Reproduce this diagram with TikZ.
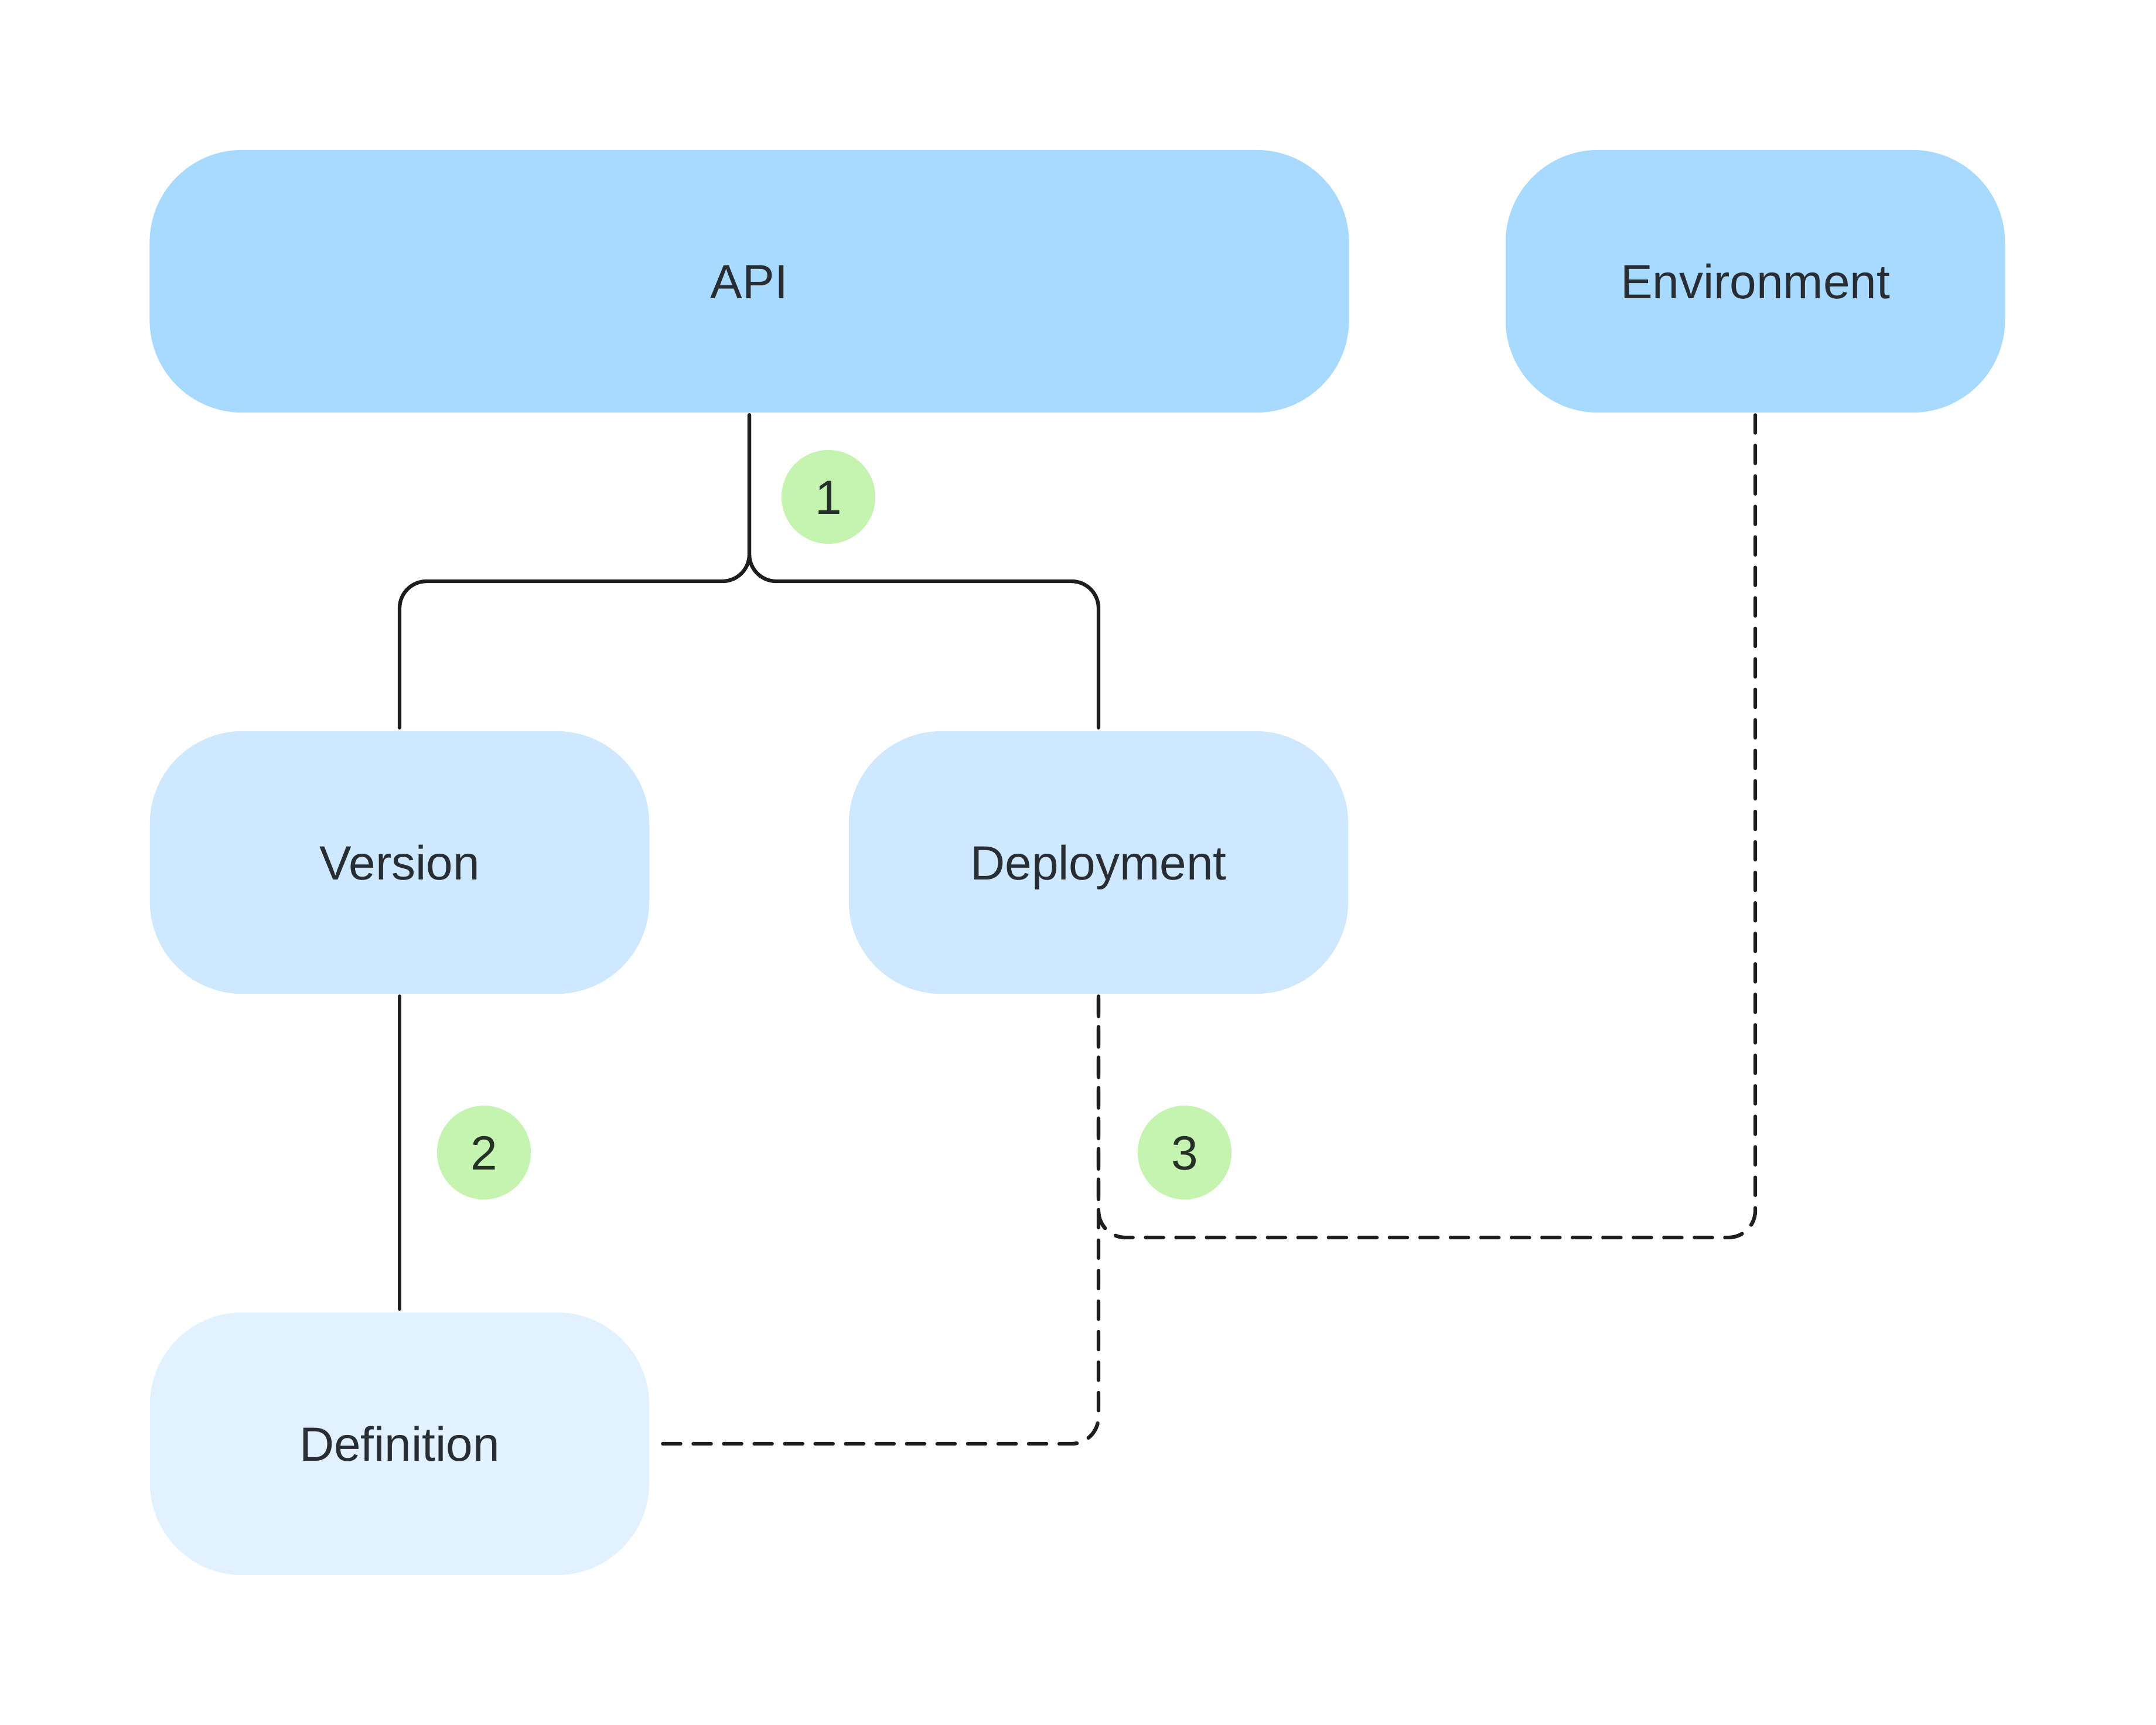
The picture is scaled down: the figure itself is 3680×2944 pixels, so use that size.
\documentclass[tikz,border=0pt]{standalone}
\usepackage{fontspec}
\setmainfont{Liberation Sans}
\definecolor{boxA}{HTML}{A8DAFF}
\definecolor{boxB}{HTML}{CDE8FF}
\definecolor{boxC}{HTML}{E1F1FF}
\definecolor{badge}{HTML}{C5F4B0}
\definecolor{txt}{HTML}{272D33}
\definecolor{numtxt}{HTML}{263026}
\definecolor{ln}{HTML}{1E1E1E}
\begin{document}
\begin{tikzpicture}[x=0.01cm,y=-0.01cm,
  box/.style={rounded corners=1.58cm, minimum width=8.52cm, minimum height=4.48cm,
    inner sep=0pt, text=txt, font=\fontsize{23.3pt}{28pt}\selectfont,
    text height=0.59cm, text depth=0pt},
  badgenode/.style={circle, fill=badge, minimum size=1.6cm, inner sep=0pt,
    text=numtxt, font=\fontsize{23.3pt}{28pt}\selectfont,
    text height=0.59cm, text depth=0pt},
  conn/.style={draw=ln, line width=1.8pt, line cap=round, rounded corners=0.46cm,
    shorten <=1pt, shorten >=1.5pt},
  dconn/.style={conn, dash pattern=on 8.6pt off 6.2pt}]
\useasboundingbox (0,0) rectangle (3680,2944);
\fill[white] (0,0) rectangle (3680,2944);

\node[box, fill=boxA, minimum width=20.46cm] (api) at (1279,480) {API};
\node[box, fill=boxA] (env) at (2996,480) {Environment};
\node[box, fill=boxB] (ver) at (682,1472) {Version};
\node[box, fill=boxB] (dep) at (1875,1472) {Deployment};
\node[box, fill=boxC] (def) at (682,2464) {Definition};

\node[badgenode] (b1) at (1414,848) {1};
\node[badgenode] (b2) at (826,1967) {2};
\node[badgenode] (b3) at (2022,1967) {3};

\coordinate (j) at (1279,992);
\coordinate (ek) at (2996,2112);

\draw[conn] (api.south) -- (j) -| (ver.north);
\draw[conn] (api.south) -- (j) -| (dep.north);
\draw[conn] (ver.south) -- (def.north);
\draw[dconn] (env.south) -- (ek) -| (dep.south);
\draw[dconn] (dep.south) |- (def.east);
\end{tikzpicture}
\end{document}
